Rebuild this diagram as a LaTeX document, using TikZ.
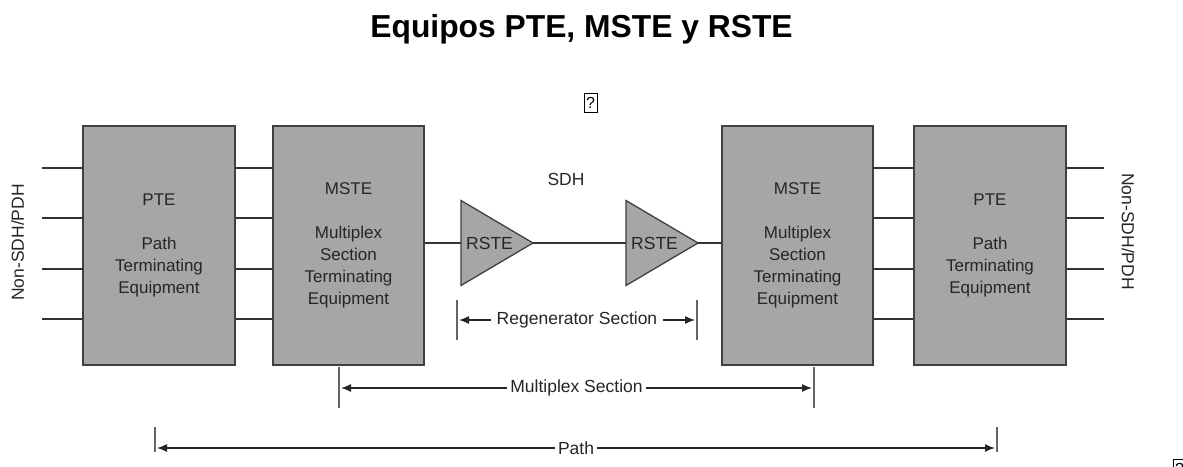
\documentclass[tikz,border=0pt]{standalone}
\usepackage{fontspec}
\setmainfont{Liberation Sans}
\usetikzlibrary{arrows.meta, positioning, calc}

\tikzset{
    eqbox/.style={draw=black!75, line width=1.3pt, fill=black!35, minimum width=151pt,
        minimum height=239pt, inner sep=0pt, align=center, text=black!85,
        font=\fontsize{17}{22}\selectfont},
    wire/.style={draw=black!80, line width=1.3pt},
    regen/.style={draw=black!75, line width=1.3pt, fill=black!35, line join=miter},
    plain/.style={text=black!85, font=\fontsize{17.5}{22}\selectfont, inner sep=0pt},
    dimbar/.style={draw=black!60, line width=1.5pt},
    dimarrow/.style={draw=black!85, line width=1.3pt, {Latex[length=10pt,width=8pt]}-{Latex[length=10pt,width=8pt]}},
    dimlabel/.style={plain, fill=white, inner xsep=3pt, inner ysep=2pt},
    glyphbox/.style={draw=black, line width=0.9pt, minimum width=13pt, minimum height=19pt,
        inner sep=0pt, font=\fontsize{16}{16}\selectfont}
}

\begin{document}
\begin{tikzpicture}[x=1pt, y=-1pt]
    \useasboundingbox (0,0) rectangle (1183,466);

    % Title
    \node[font=\bfseries\fontsize{31.8}{32}\selectfont, anchor=base] (title) at (581.5,37) {Equipos PTE, MSTE y RSTE};
    \node[glyphbox] (glyphA) at (590.5,102.5) {?};
    \node[glyphbox] (glyphB) at (1179.5,468.5) {?};

    % Equipment boxes
    \node[eqbox, minimum width=152pt] (pteL) at (159,245.5) {PTE\\[22pt]Path\\Terminating\\Equipment};
    \node[eqbox] (msteL) at (348.5,245.5) {MSTE\\[22pt]Multiplex\\Section\\Terminating\\Equipment};
    \node[eqbox] (msteR) at (797.5,245.5) {MSTE\\[22pt]Multiplex\\Section\\Terminating\\Equipment};
    \node[eqbox, minimum width=152pt] (pteR) at (990,245.5) {PTE\\[22pt]Path\\Terminating\\Equipment};

    % Tributary lines
    \foreach \y in {168,218,269,319} {
        \draw[wire] (pteL.west |- 0,\y) -- ++(-40,0);
        \draw[wire] (pteL.east |- 0,\y) -- (msteL.west |- 0,\y);
        \draw[wire] (msteR.east |- 0,\y) -- (pteR.west |- 0,\y);
        \draw[wire] (pteR.east |- 0,\y) -- ++(37,0);
    }

    \node[plain, rotate=90] (nonL) at (17.5,242.5) {Non-SDH/PDH};
    \node[plain, rotate=-90] (nonR) at (1128,231.5) {Non-SDH/PDH};

    % Regenerators
    \coordinate (rsteA) at (461,243);
    \coordinate (rsteAtip) at (533,243);
    \coordinate (rsteB) at (626,243);
    \coordinate (rsteBtip) at (698,243);
    \foreach \r in {rsteA, rsteB} {
        \draw[regen] (\r) ++(0,-42.5) -- ++(72,42.5) -- ++(-72,42.5) -- cycle;
    }
    \node[plain, anchor=west] (rsteAtext) at ($(rsteA)+(5,0)$) {RSTE};
    \node[plain, anchor=west] (rsteBtext) at ($(rsteB)+(5,0)$) {RSTE};

    \draw[wire] (msteL.east |- rsteA) -- (rsteA);
    \draw[wire] (rsteAtip) -- (rsteB);
    \draw[wire] (rsteBtip) -- (msteR.west |- rsteBtip);

    \node[plain] (sdh) at (566,179) {SDH};

    % Sections
    \coordinate (regL) at (457,320);
    \coordinate (regR) at (697,320);
    \coordinate (muxL) at (339,388);
    \coordinate (muxR) at (814,388);
    \coordinate (pathL) at (155,448);
    \coordinate (pathR) at (997,448);

    \draw[dimbar] (regL) ++(0,-20) -- ++(0,40);
    \draw[dimbar] (regR) ++(0,-20) -- ++(0,40);
    \draw[dimbar] (muxL) ++(0,-21) -- ++(0,41);
    \draw[dimbar] (muxR) ++(0,-21) -- ++(0,41);
    \draw[dimbar] (pathL) ++(0,-21) -- ++(0,25);
    \draw[dimbar] (pathR) ++(0,-21) -- ++(0,25);

    \draw[dimarrow, shorten <=2pt, shorten >=2pt] (regL) -- node[dimlabel, inner xsep=6pt] (regtext) {Regenerator Section} (regR);
    \draw[dimarrow, shorten <=2pt, shorten >=2pt] (muxL) -- node[dimlabel] (muxtext) {Multiplex Section} (muxR);
    \draw[dimarrow, shorten <=2pt, shorten >=2pt] (pathL) -- node[dimlabel] (pathtext) {Path} (pathR);
\end{tikzpicture}
\end{document}
